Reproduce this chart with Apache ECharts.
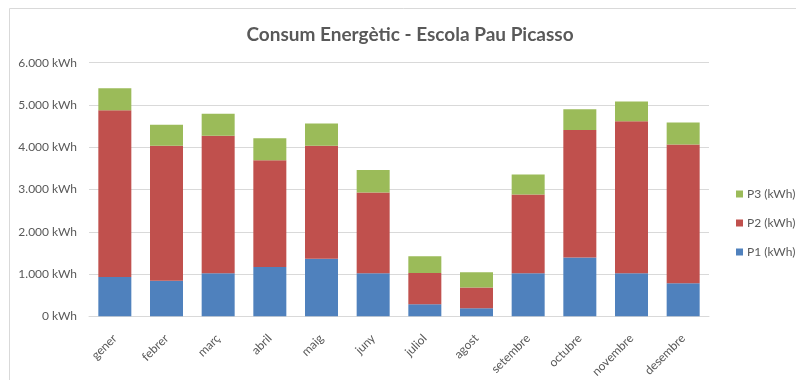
<!DOCTYPE html>
<html>
<head>
<meta charset="utf-8">
<script src="https://cdn.jsdelivr.net/npm/echarts@6/dist/echarts.min.js"></script>
<style>html,body{margin:0;padding:0;background:#fff}#c{width:796px;height:380px}</style>
</head>
<body>
<div id="c"></div>
<script>
const categories = ['gener','febrer','març','abril','maig','juny','juliol','agost','setembre','octubre','novembre','desembre'];
const p1 = [930, 840, 1020, 1170, 1360, 1020, 285, 190, 1020, 1390, 1020, 785];
const p2 = [3945, 3195, 3250, 2525, 2675, 1910, 740, 495, 1865, 3020, 3595, 3280];
const p3 = [520, 495, 525, 520, 525, 530, 395, 360, 470, 490, 465, 520];
const yTicks = [0, 1000, 2000, 3000, 4000, 5000, 6000];

const fontFam = 'Lato, "Open Sans", sans-serif';
const chart = echarts.init(document.getElementById('c'), null, {renderer: 'canvas'});
function fmt(v){ return String(v).replace(/\B(?=(\d{3})+(?!\d))/g, '.') + ' kWh'; }
const barW = 33;
chart.setOption({
  animation: false,
  backgroundColor: '#fff',
  graphic: [{type:'rect', shape:{x:9.5, y:8.5, width:820, height:400}, style:{fill:'none', stroke:'#d9d9d9', lineWidth:1}, silent:true}],
  title: {
    text: 'Consum Energètic - Escola Pau Picasso',
    left: 405, top: 20, textAlign: 'center',
    textStyle: {fontFamily: fontFam, fontSize: 19, fontWeight: 'bold', color: '#595959'}
  },
  legend: {
    orient: 'vertical', left: 731, top: 183,
    itemWidth: 7, itemHeight: 7, itemGap: 17,
    icon: 'rect',
    data: ['P3 (kWh)', 'P2 (kWh)', 'P1 (kWh)'],
    textStyle: {fontFamily: fontFam, fontSize: 12, color: '#595959', padding: [0,0,0,-1]}
  },
  grid: {left: 89, right: 87, top: 62.7, bottom: 63, containLabel: false},
  xAxis: {
    type: 'category', data: categories,
    axisLine: {lineStyle: {color: '#d9d9d9'}},
    axisTick: {show: false},
    axisLabel: {rotate: 45, color: '#595959', fontFamily: fontFam, fontSize: 12, margin: 20, interval: 0}
  },
  yAxis: {
    type: 'value', min: yTicks[0], max: yTicks[yTicks.length-1], interval: 1000,
    axisLine: {show: false}, axisTick: {show: false},
    splitLine: {lineStyle: {color: '#d9d9d9'}},
    axisLabel: {color: '#595959', fontFamily: fontFam, fontSize: 12, margin: 12, formatter: fmt}
  },
  series: [
    {name: 'P1 (kWh)', type: 'bar', stack: 't', data: p1, barWidth: barW, itemStyle: {color: '#4F81BD'}},
    {name: 'P2 (kWh)', type: 'bar', stack: 't', data: p2, barWidth: barW, itemStyle: {color: '#C0504D'}},
    {name: 'P3 (kWh)', type: 'bar', stack: 't', data: p3, barWidth: barW, itemStyle: {color: '#9BBB59'}}
  ]
});
</script>
</body>
</html>
